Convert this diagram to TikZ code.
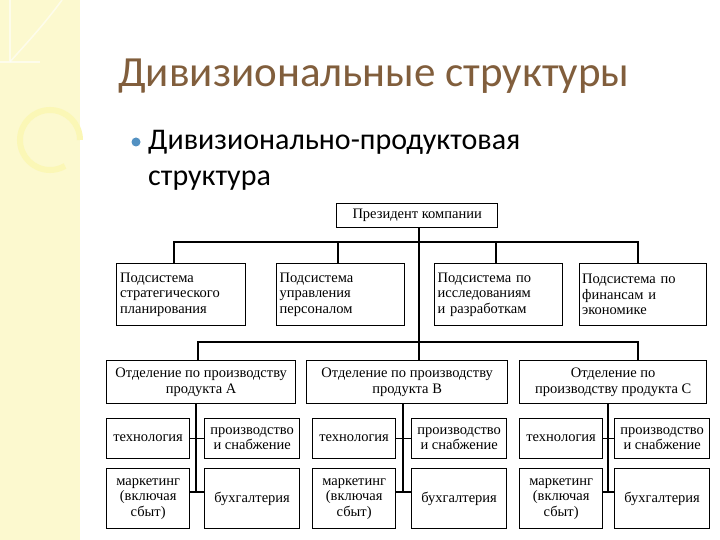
\documentclass[tikz,border=0pt]{standalone}
\usepackage{fontspec}
\setmainfont{Liberation Serif}
\newfontfamily\calib{Carlito}
\begin{document}
\begin{tikzpicture}[x=1pt,y=-1pt,
  bx/.style={draw,line width=1.3pt,inner sep=0pt,anchor=north west,font=\fontsize{14.5}{15.5}\selectfont,align=center},
  ln/.style={line width=1.3pt}]
\useasboundingbox (0,0) rectangle (720,540);
\fill[white] (0,0) rectangle (720,540);
\fill[brown!25!yellow!20!white] (0,0) rectangle (80,540);
\draw[white,line width=2pt,opacity=.6] (0,62) -- (40,62) (10,0) -- (10,62);
\draw[white,line width=1.5pt,opacity=.6] (62,0) .. controls (40,30) and (20,50) .. (10,62);
\draw[brown!20!yellow!30!white,line width=6pt] (80,140) arc (0:-300:30);
\node[anchor=base west,inner sep=0pt,text=brown!60!black!90,font=\calib\fontsize{43}{48}\selectfont] (title) at (118,87) {Дивизиональные структуры};
\fill[cyan!70!blue!80!black!80] (136,142) circle (4.5);
\node[anchor=base west,font=\calib\fontsize{30}{34}\selectfont,align=left,inner sep=0pt] (sub) at (148,150) {Дивизионально-продуктовая};
\node[anchor=base west,font=\calib\fontsize{30}{34}\selectfont,inner sep=0pt] (sub2) at (148,186) {структура};
% president
\node[bx,minimum width=161,minimum height=24] (p) at (336,203) {Президент компании};
\node[bx,minimum width=129,minimum height=62,align=left,text width=122] (s1) at (116,263) {Подсистема\\стратегического\\планирования};
\node[bx,minimum width=128,minimum height=62,align=left,text width=122] (s2) at (276,263) {Подсистема\\управления\\персоналом};
\node[bx,minimum width=128,minimum height=62,align=left,text width=122] (s3) at (434,263) {Подсистема по\\исследованиям\\и разработкам};
\node[bx,minimum width=127,minimum height=62,align=left,text width=122] (s4) at (579,263) {Подсистема по\\финансам и\\экономике};
\node[bx,minimum width=189,minimum height=43] (dA) at (106,360) {Отделение по производству\\продукта А};
\node[bx,minimum width=201,minimum height=43] (dB) at (306,360) {Отделение по производству\\продукта В};
\node[bx,minimum width=187,minimum height=43] (dC) at (519,360) {Отделение по\\производству продукта С};
\coordinate (j1) at (419,242);
\coordinate (j2) at (419,342);
\draw[ln] (p.south -| j1) -- (j2) -- (dB.north -| j2);
\draw[ln] (s1.north -| 174,0) |- (j1) -| (s4.north -| 638,0);
\draw[ln] (s2.north -| 338,0) -- (338,242);
\draw[ln] (s3.north -| 496,0) -- (496,242);
\draw[ln] (dA.north -| 198,0) |- (j2) -| (dC.north -| 638,0);
\foreach \n/\x/\y/\v in {A/106/204/196,B/312/411/403,C/519/614/608}{
  \node[bx,minimum width=83,minimum height=40] (t\n) at (\x,418) {технология};
  \node[bx,minimum width=95,minimum height=40] (r\n) at (\y,418) {производство\\и снабжение};
  \node[bx,minimum width=83,minimum height=60] (m\n) at (\x,468) {маркетинг\\(включая\\сбыт)};
  \node[bx,minimum width=95,minimum height=60] (b\n) at (\y,468) {бухгалтерия};
  \coordinate (v\n) at (\v,492);
  \draw[ln] (d\n.south -| v\n) -- (v\n);
  \draw[ln] (t\n.east) -- (r\n.west);
  \draw[ln] (m\n.east |- v\n) -- (b\n.west |- v\n);
}
\end{tikzpicture}
\end{document}
